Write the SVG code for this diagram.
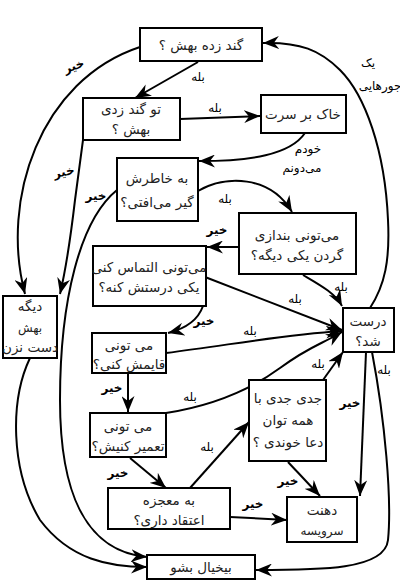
<svg xmlns="http://www.w3.org/2000/svg" width="400" height="585" viewBox="0 0 400 585">
<style>
.box{fill:#fff;stroke:#000;stroke-width:2}
.t{font-family:"DejaVu Sans",sans-serif;font-size:13.5px;fill:#222;text-anchor:middle;direction:rtl}
.s{font-size:12px}
.lb{font-family:"DejaVu Sans",sans-serif;font-size:12px;fill:#000;text-anchor:middle;direction:rtl}
.no{font-weight:bold}
.c{fill:none;stroke:#000;stroke-width:2;marker-end:url(#ah)}
</style>
<defs>
<marker id="ah" markerUnits="userSpaceOnUse" markerWidth="17" markerHeight="13" refX="16" refY="6.5" orient="auto">
<path d="M0,0 L16,6.5 L0,13 L5,6.5 z" fill="#000"/>
</marker>
</defs>
<rect width="400" height="585" fill="#fff"/>
<g id="connectors">
<path class="c" d="M198,62 L135,98"/>
<path class="c" d="M140,47 C40,80 0,200 25,294"/>
<path class="c" d="M180,119 L260,116"/>
<path class="c" d="M83,140 L75,200 Q68,260 60,294"/>
<path class="c" d="M305,133 C290,155 250,161 199,161"/>
<path class="c" d="M198,191 C225,175 270,175 292,212"/>
<path class="c" d="M117,190 C80,220 60,300 60,400 C60,500 90,552 147,557"/>
<path class="c" d="M30,358 C10,400 10,470 40,520 C70,560 110,567 147,567"/>
<path class="c" d="M239,247 L207,247"/>
<path class="c" d="M303,275 C320,285 335,293 342,306"/>
<path class="c" d="M205,277 L342,330"/>
<path class="c" d="M166,353 C230,345 280,335 342,331"/>
<path class="c" d="M166,413 C210,406 250,390 280,368 S320,345 342,332"/>
<path class="c" d="M203,306 Q196,326 168,333"/>
<path class="c" d="M128,373 L128,412"/>
<path class="c" d="M130,458 L166,488"/>
<path class="c" d="M190,488 L249,422"/>
<path class="c" d="M323,380 L343,352"/>
<path class="c" d="M288,462 L320,496"/>
<path class="c" d="M230,517 L287,520"/>
<path class="c" d="M366,352 L360,496"/>
<path class="c" d="M372,352 C385,420 392,500 388,540 C385,570 320,570 256,570"/>
<path class="c" d="M370,308 C385,285 390,260 388,220 C385,150 365,95 340,70 C320,50 300,42 263,43"/>
<text class="lb" x="198" y="81">بله</text>
<text class="lb no" x="74" y="70" transform="rotate(-20 74 66)">خیر</text>
<text class="lb" x="215" y="112">بله</text>
<text class="lb no" x="64" y="176" transform="rotate(-12 64 172)">خیر</text>
<text class="lb no" x="96" y="200">خیر</text>
<text class="lb" x="308" y="153">خودم</text>
<text class="lb" x="302" y="172">می‌دونم</text>
<text class="lb" x="225" y="203">بله</text>
<text class="lb no" x="217" y="234">خیر</text>
<text class="lb" x="341" y="291">بله</text>
<text class="lb" x="295" y="303">بله</text>
<text class="lb" x="250" y="335">بله</text>
<text class="lb no" x="204" y="325">خیر</text>
<text class="lb no" x="112" y="392">خیر</text>
<text class="lb" x="190" y="401">بله</text>
<text class="lb no" x="118" y="477">خیر</text>
<text class="lb" x="207" y="451">بله</text>
<text class="lb" x="318" y="368">بله</text>
<text class="lb" x="384" y="374">بله</text>
<text class="lb no" x="350" y="407">خیر</text>
<text class="lb no" x="288" y="485">خیر</text>
<text class="lb no" x="253" y="508">خیر</text>
<text class="lb" x="368" y="67">یک</text>
<text class="lb" x="380" y="90">جورهایی</text>
</g>
<g id="n1"><rect class="box" x="140" y="28" width="122" height="33"/><text class="t" x="201" y="50">گند زده بهش ؟</text></g>
<g id="n2"><rect class="box" x="83" y="98" width="97" height="42"/><text class="t" x="131" y="114">تو گند زدی</text><text class="t" x="131" y="134">بهش ؟</text></g>
<g id="n3"><rect class="box" x="261" y="95" width="85" height="38"/><text class="t" x="303" y="119">خاک بر سرت</text></g>
<g id="n4"><rect class="box" x="117" y="158" width="81" height="63"/><text class="t" x="157" y="183">به خاطرش</text><text class="t" x="157" y="207">گیر می‌افتی؟</text></g>
<g id="n5"><rect class="box" x="239" y="213" width="117" height="61"/><text class="t" x="297" y="240">می‌تونی بندازی</text><text class="t" x="297" y="260">گردن یکی دیگه؟</text></g>
<g id="n6"><rect class="box" x="93" y="246" width="113" height="60"/><text class="t" x="149" y="272">می‌تونی التماس کنی</text><text class="t" x="149" y="292">یکی درستش کنه؟</text></g>
<g id="n7"><rect class="box" x="3" y="296" width="54" height="62"/><text class="t" x="30" y="311">دیگه</text><text class="t s" x="30" y="332">بهش</text><text class="t" x="30" y="352">دست نزن</text></g>
<g id="n8"><rect class="box" x="343" y="308" width="51" height="44"/><text class="t" x="368" y="326">درست</text><text class="t" x="368" y="346">شد؟</text></g>
<g id="n9"><rect class="box" x="92" y="333" width="74" height="40"/><text class="t" x="129" y="350">می تونی</text><text class="t" x="129" y="369">قایمش کنی؟</text></g>
<g id="n10"><rect class="box" x="90" y="413" width="76" height="44"/><text class="t" x="128" y="431">می تونی</text><text class="t" x="128" y="451">تعمیر کنیش؟</text></g>
<g id="n11"><rect class="box" x="249" y="380" width="77" height="81"/><text class="t" x="288" y="403">جدی جدی با</text><text class="t" x="288" y="425">همه توان</text><text class="t" x="288" y="447">دعا خوندی ؟</text></g>
<g id="n12"><rect class="box" x="108" y="488" width="122" height="41"/><text class="t" x="169" y="505">به معجزه</text><text class="t" x="169" y="525">اعتقاد داری؟</text></g>
<g id="n13"><rect class="box" x="287" y="497" width="70" height="45"/><text class="t" x="322" y="515">دهنت</text><text class="t s" x="322" y="535">سرویسه</text></g>
<g id="n14"><rect class="box" x="147" y="555" width="108" height="24"/><text class="t" x="201" y="572">بیخیال بشو</text></g>
</svg>
